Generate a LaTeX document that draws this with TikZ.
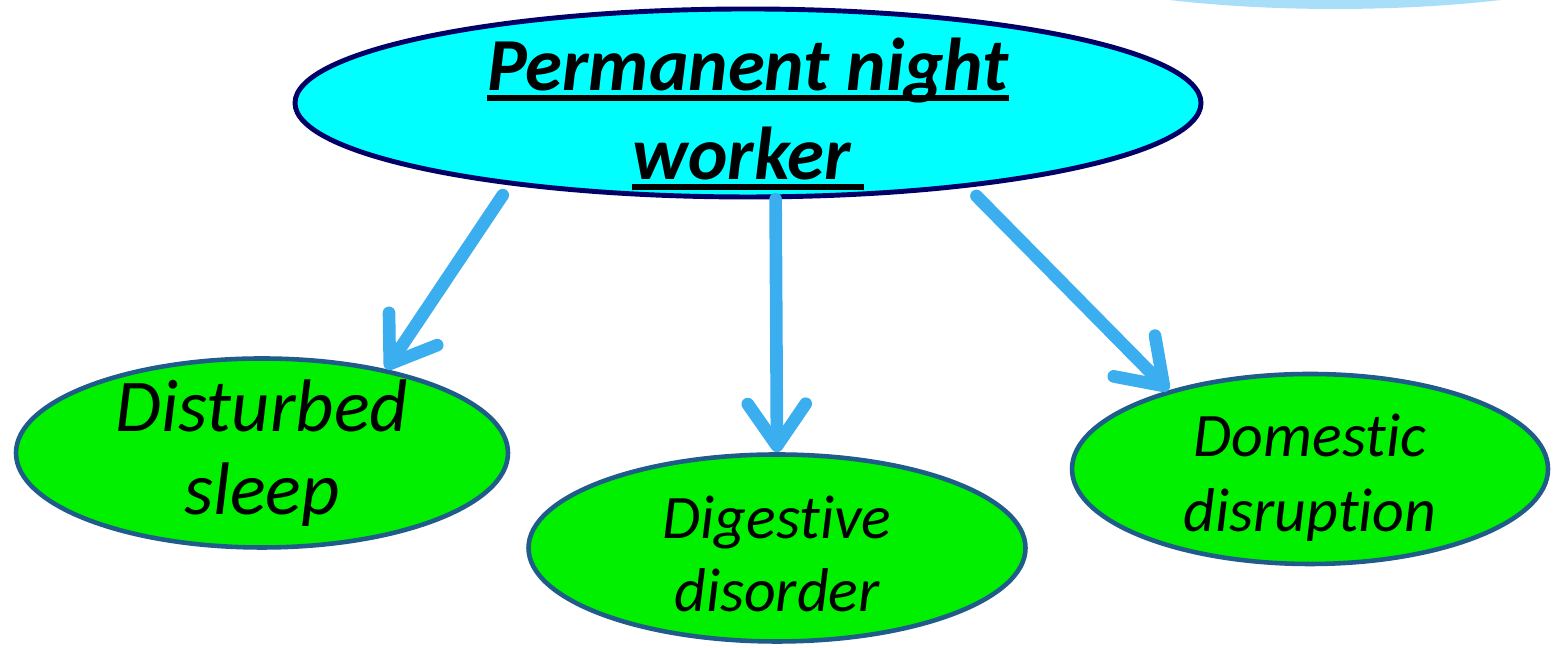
\documentclass[tikz,border=0pt]{standalone}
\usepackage{fontspec}
\setmainfont{Carlito}[Ligatures={TeX, NoCommon, NoContextual}]
\usetikzlibrary{shapes.geometric, arrows.meta}
\definecolor{cyanfill}{HTML}{00FFFF}
\definecolor{navyline}{HTML}{000066}
\definecolor{greenfill}{HTML}{00F000}
\definecolor{tealline}{HTML}{1F5C8A}
\definecolor{arrowblue}{HTML}{3BAEEF}
\definecolor{paleblue}{HTML}{A9DEF9}
\newcommand{\nightline}[1]{\leavevmode\setbox0\hbox{#1}\rlap{\rule[-2.9pt]{\wd0}{1.8pt}}\box0}

\begin{document}
\begin{tikzpicture}[
    rootbox/.style={ellipse, draw=navyline, fill=cyanfill, line width=1.4pt,
      inner xsep=0pt, inner ysep=-0.35cm, align=center},
    effectbox/.style={ellipse, draw=tealline, fill=greenfill, line width=1.3pt,
      inner xsep=0pt, inner ysep=-0.35cm, align=center},
    effectarrow/.style={draw=arrowblue, line width=3.6pt, line cap=round,
      -{Straight Barb[length=0.42cm, width=0.58cm, round]},
      preaction={draw=black!25, transform canvas={xshift=0.7pt, yshift=-0.7pt}}}
  ]
    \useasboundingbox (0,0) rectangle (15.54,6.48);
    \clip (0,0) rectangle (15.54,6.48);
    % Background shape
    \fill[paleblue] (13.35,7.19) ellipse [x radius=3.6, y radius=0.8];
    % Nodes
    \node[rootbox, minimum width=9.06cm, minimum height=1.88cm,
      font=\fontsize{21.3}{25.3}\selectfont\bfseries\itshape] (worker) at (7.48,5.45)
      {\rule{0pt}{1em}\nightline{Permanent night}\\\nightline{worker\,}};
    \node[effectbox, minimum width=4.92cm, minimum height=1.89cm,
      font=\fontsize{21.2}{23.8}\selectfont\itshape] (sleep) at (2.62,1.95)
      {Disturbed\\sleep};
    \node[effectbox, minimum width=4.97cm, minimum height=1.87cm,
      font=\fontsize{17.6}{20.8}\selectfont\itshape] (digest) at (7.77,1.00)
      {\rule{0pt}{0.87em}Digestive\\disorder};
    \node[effectbox, minimum width=4.76cm, minimum height=1.90cm,
      font=\fontsize{17.6}{21.3}\selectfont\itshape] (domestic) at (13.10,1.79)
      {\rule{0pt}{0.97em}Domestic\\disruption};
    % Arrows
    \draw[effectarrow, shorten <=0.12cm] (worker.199) -- (sleep.34);
    \draw[effectarrow] (worker.-74) -- (digest.90);
    \draw[effectarrow, shorten <=0.12cm] (worker.-21) -- (domestic.151);
\end{tikzpicture}
\end{document}
